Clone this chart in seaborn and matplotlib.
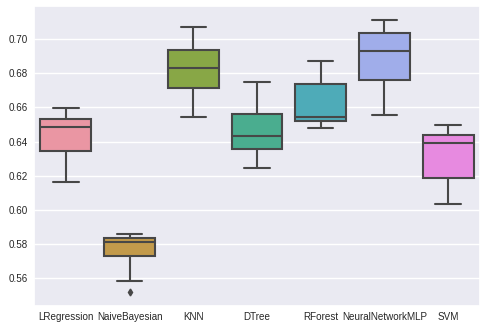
import matplotlib
matplotlib.use("Agg")
import matplotlib.pyplot as plt
import seaborn as sns
import pandas as pd
import colorsys

models = ["LRegression", "NaiveBayesian", "KNN", "DTree", "RForest", "NeuralNetworkMLP", "SVM"]

# cross-validation scores (9 folds each)
lregression = [0.6165, 0.6300, 0.6347, 0.6420, 0.6487, 0.6510, 0.6531, 0.6570, 0.6599]
naive_bayesian = [0.5518, 0.5584, 0.5731, 0.5760, 0.5811, 0.5825, 0.5836, 0.5850, 0.5860]
knn = [0.6546, 0.6650, 0.6714, 0.6770, 0.6832, 0.6880, 0.6937, 0.7000, 0.7074]
dtree = [0.6247, 0.6320, 0.6357, 0.6400, 0.6435, 0.6500, 0.6564, 0.6650, 0.6751]
rforest = [0.6482, 0.6500, 0.6521, 0.6535, 0.6546, 0.6620, 0.6740, 0.6800, 0.6873]
mlp = [0.6558, 0.6700, 0.6763, 0.6850, 0.6933, 0.6990, 0.7037, 0.7080, 0.7113]
svm = [0.6036, 0.6120, 0.6188, 0.6300, 0.6394, 0.6420, 0.6440, 0.6470, 0.6500]

series = [lregression, naive_bayesian, knn, dtree, rforest, mlp, svm]
df = pd.DataFrame({
    "model": [m for m, s in zip(models, series) for _ in s],
    "score": [v for s in series for v in s],
})

sns.set_theme(style="darkgrid")
plt.rcParams["font.family"] = ["Liberation Sans", "DejaVu Sans"]

pal = sns.husl_palette(len(models), l=.7)
lum = min(colorsys.rgb_to_hls(*c)[1] for c in pal) * .6
gray = matplotlib.colors.rgb2hex((lum, lum, lum))

fig = plt.figure(figsize=(4.87, 3.29), dpi=100)
ax = fig.add_axes([34 / 487, 23 / 329, 446 / 487, 300 / 329])
sns.boxplot(data=df, x="model", y="score", hue="model", order=models,
            palette=pal, saturation=0.75, width=0.8, linewidth=1.5,
            linecolor=gray, legend=False, ax=ax,
            flierprops=dict(marker="d", markersize=3.5,
                            markerfacecolor=gray, markeredgecolor=gray))
ax.set_ylim(0.5436, 0.7195)
ax.set_yticks([0.56, 0.58, 0.60, 0.62, 0.64, 0.66, 0.68, 0.70])
ax.set_yticklabels(["0.56", "0.58", "0.60", "0.62", "0.64", "0.66", "0.68", "0.70"])
ax.set_xlabel("")
ax.set_ylabel("")
ax.tick_params(axis="both", labelsize=7.1, colors="#262626", length=0, pad=4.5)
fig.savefig("out.png", dpi=100)
